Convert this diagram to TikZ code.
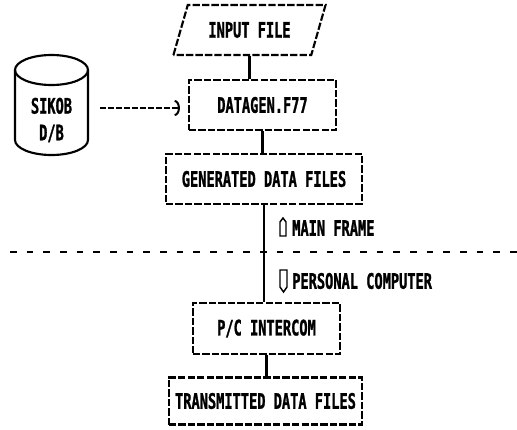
\documentclass[tikz,border=0pt]{standalone}
\usepackage{fontspec}
\newfontfamily\dotfont{DejaVu Sans Mono}[FakeStretch=0.64, BoldFeatures={FakeBold=1.2}]
\usetikzlibrary{arrows.meta}
\usetikzlibrary{shapes.geometric}

\tikzset{
  dbox/.style={draw, line width=1.6pt, dash pattern={on 5.5pt off 1.6pt}, inner sep=0pt},
  lbl/.style={font=\dotfont\bfseries\fontsize{16}{18}\selectfont, inner sep=0pt},
  link/.style={line width=1.6pt},
}

\begin{document}
\begin{tikzpicture}[x=0.75pt,y=0.75pt,yscale=-1,xscale=1]
\useasboundingbox (0,0) rectangle (517,429);

%Shape: Parallelogram [id:inp]
\node [dbox, lbl, trapezium, trapezium left angle=59, trapezium right angle=121, trapezium stretches=true, minimum width=114.75pt, minimum height=37.5pt] (inp) at (249.5,30) {INPUT FILE};
%Shape: Rectangle [id:dg]
\node [dbox, lbl, minimum width=110.25pt, minimum height=37.5pt] (dg) at (262.5,105) {DATAGEN.F77};
%Shape: Rectangle [id:gen]
\node [dbox, lbl, minimum width=147pt, minimum height=37.5pt] (gen) at (264,179) {GENERATED DATA FILES};
%Shape: Rectangle [id:pci]
\node [dbox, lbl, minimum width=110.25pt, minimum height=38.25pt] (pci) at (266.5,328.5) {P/C INTERCOM};
%Shape: Rectangle [id:tx]
\node [dbox, lbl, minimum width=144.75pt, minimum height=35.25pt] (tx) at (265.5,401) {TRANSMITTED DATA FILES};

%Shape: Can [id:db]
\draw [link] (15,70) -- (15,140) arc (180:0:36.5 and 15) -- (88,70) ;
\draw [link] (51.5,70) ellipse (36.5 and 15) ;
% Text Node
\node [lbl, align=center] (db) at (51.5,120) {SIKOB\\[2pt]D/B};
\coordinate (dbout) at (100,108);

%Straight Lines [id:links]
\draw [link] (inp.south) -- (inp.south |- dg.north) ;
\draw [link] (dg.south) -- (dg.south |- gen.north) ;
\draw [link] (gen.south) -- (gen.south |- pci.north) ;
\draw [link] (pci.south) -- (pci.south |- tx.north) ;
%Straight Lines [id:feed]
\draw [link, dash pattern={on 4.5pt off 1.5pt}, -{Arc Barb[length=4pt, width=12pt, line width=1.5pt]}] (dbout) -- ([xshift=-6pt]dg.west |- dbout) ;

%Straight Lines [id:split]
\coordinate (splitl) at (10,252);
\coordinate (splitr) at (517,252);
\draw [line width=1.7pt, dash pattern={on 5pt off 7.5pt}] (splitl) -- (splitr) ;

%Shape: Marker up [id:mfmark]
\draw [line width=1.1pt] (280,236) -- (280,222) -- (283,218) -- (286,222) -- (286,236) -- cycle ;
% Text Node
\node [lbl, anchor=west] (mf) at (292,228) {MAIN FRAME};
%Shape: Marker down [id:pcmark]
\draw [line width=1.1pt] (280,270) -- (287,270) -- (287,287) -- (283.5,292) -- (280,287) -- cycle ;
% Text Node
\node [lbl, anchor=west] (pc) at (292,281) {PERSONAL COMPUTER};

\end{tikzpicture}
\end{document}
